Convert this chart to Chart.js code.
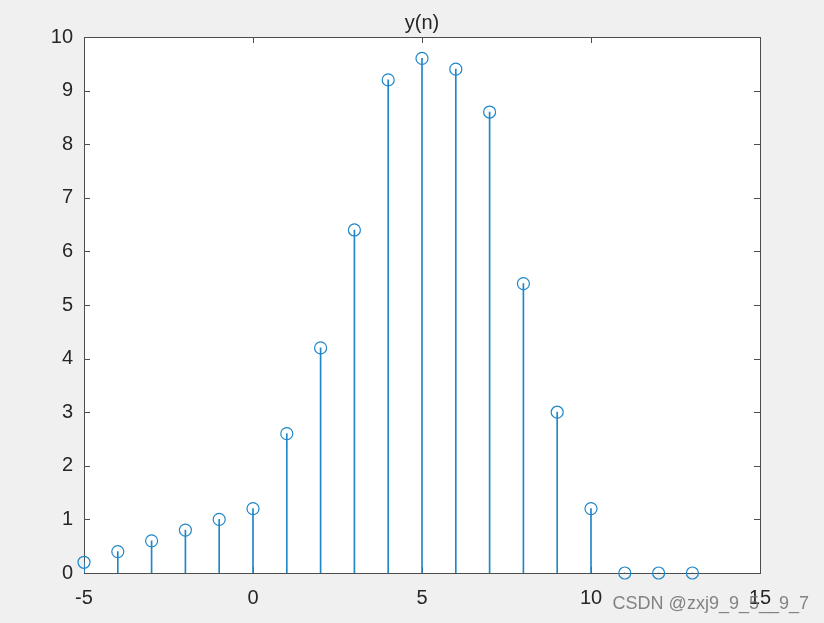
<!DOCTYPE html>
<html>
<head>
<meta charset="utf-8">
<script src="https://cdn.jsdelivr.net/npm/chart.js@4"></script>
<style>
  html, body { margin: 0; padding: 0; background: #f0f0f0; }
  #wrap { width: 824px; height: 623px; position: relative; }
</style>
</head>
<body>
<div id="wrap"><canvas id="stemChart"></canvas></div>
<script>
// sample index n and the sequence y(n)
const nValues = [-5, -4, -3, -2, -1, 0, 1, 2, 3, 4, 5, 6, 7, 8, 9, 10, 11, 12, 13];
const yValues = [0.2, 0.4, 0.6, 0.8, 1.0, 1.2, 2.6, 4.2, 6.4, 9.2, 9.6, 9.4, 8.6, 5.4, 3.0, 1.2, 0, 0, 0];
const xTicks = [-5, 0, 5, 10, 15];
const yTicks = [0, 1, 2, 3, 4, 5, 6, 7, 8, 9, 10];
const titleText = 'y(n)';
const watermark = 'CSDN @zxj9_9_5__9_7';

const colors = {
    stem: '#1f86c8',     // MATLAB default blue, a bit lighter for 1px lines
    axis: '#262626',
    box: '#4d4d4d',
    bg: '#f0f0f0'
};

const points = nValues.map((n, i) => ({ x: n, y: yValues[i] }));

// white plot area, box with inward ticks, title and watermark
const matlabAxes = {
    id: 'matlabAxes',
    beforeDraw(chart) {
        const { ctx, chartArea: a } = chart;
        ctx.save();
        ctx.fillStyle = colors.bg;
        ctx.fillRect(0, 0, chart.width, chart.height);
        ctx.fillStyle = '#ffffff';
        ctx.fillRect(a.left, a.top, a.right - a.left, a.bottom - a.top);
        ctx.restore();
    },
    beforeDatasetsDraw(chart) {
        const { ctx, chartArea: a, scales } = chart;
        const tl = 6;
        ctx.save();
        ctx.strokeStyle = colors.box;
        ctx.lineWidth = 1;
        ctx.strokeRect(Math.round(a.left) + 0.5, Math.round(a.top) + 0.5,
            Math.round(a.right - a.left), Math.round(a.bottom - a.top));
        ctx.beginPath();
        xTicks.forEach(v => {
            const px = Math.round(scales.x.getPixelForValue(v)) + 0.5;
            ctx.moveTo(px, a.bottom); ctx.lineTo(px, a.bottom - tl);
            ctx.moveTo(px, a.top); ctx.lineTo(px, a.top + tl);
        });
        yTicks.forEach(v => {
            const py = Math.round(scales.y.getPixelForValue(v)) + 0.5;
            ctx.moveTo(a.left, py); ctx.lineTo(a.left + tl, py);
            ctx.moveTo(a.right, py); ctx.lineTo(a.right - tl, py);
        });
        ctx.stroke();
        ctx.restore();
    },
    afterDraw(chart) {
        const { ctx, chartArea: a } = chart;
        ctx.save();
        ctx.fillStyle = colors.axis;
        ctx.font = '20px "Liberation Sans", Arial, sans-serif';
        ctx.textAlign = 'center';
        ctx.textBaseline = 'middle';
        ctx.fillText(titleText, (a.left + a.right) / 2, 23);

        ctx.fillStyle = 'rgba(110,110,110,0.85)';
        ctx.font = '18px "Liberation Sans", Arial, sans-serif';
        ctx.textAlign = 'right';
        ctx.fillText(watermark, 809, 604);
        ctx.restore();
    }
};

new Chart(document.getElementById('stemChart'), {
    type: 'bar',
    data: {
        datasets: [
            {
                type: 'scatter',
                data: points,
                clip: false,
                pointStyle: 'circle',
                pointRadius: 6,
                pointHoverRadius: 6,
                pointBorderWidth: 1.2,
                pointBorderColor: colors.stem,
                pointBackgroundColor: 'rgba(0,0,0,0)',
                order: 0
            },
            {
                type: 'bar',
                data: points,
                backgroundColor: colors.stem,
                barThickness: 1,
                order: 1
            }
        ]
    },
    options: {
        responsive: true,
        maintainAspectRatio: false,
        animation: false,
        layout: { padding: { top: 37, right: 64, left: 0, bottom: 0 } },
        scales: {
            x: {
                type: 'linear',
                min: -5,
                max: 15,
                offset: false,
                afterBuildTicks: s => { s.ticks = xTicks.map(v => ({ value: v })); },
                afterFit: s => { s.height = 50; },
                grid: { display: false, drawTicks: false },
                border: { display: false },
                ticks: {
                    padding: 13,
                    color: colors.axis,
                    font: { family: '"Liberation Sans", Arial, sans-serif', size: 20 }
                }
            },
            y: {
                min: 0,
                max: 10,
                afterBuildTicks: s => { s.ticks = yTicks.map(v => ({ value: v })); },
                afterFit: s => { s.width = 84; },
                grid: { display: false, drawTicks: false },
                border: { display: false },
                ticks: {
                    padding: 11,
                    color: colors.axis,
                    font: { family: '"Liberation Sans", Arial, sans-serif', size: 20 }
                }
            }
        },
        plugins: {
            legend: { display: false },
            tooltip: { enabled: false }
        }
    },
    plugins: [matlabAxes]
});
</script>
</body>
</html>
